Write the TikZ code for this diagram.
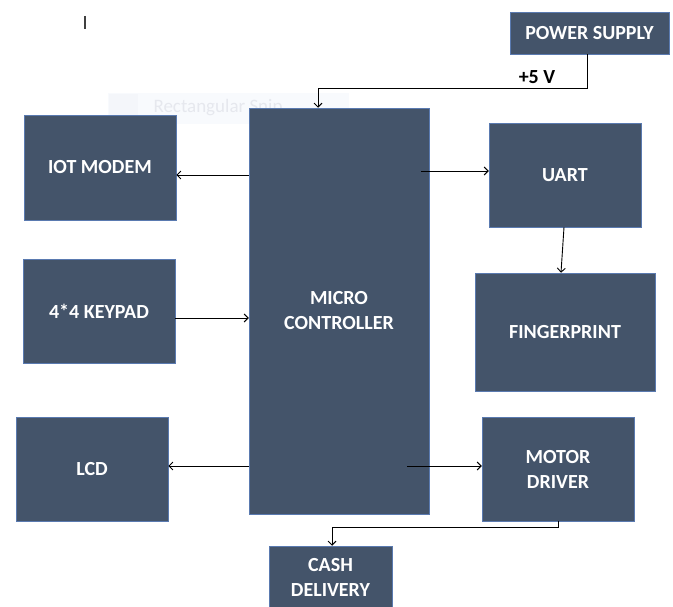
\documentclass[tikz,border=0pt]{standalone}
\usepackage{fontspec}
\setmainfont{Carlito}
\usetikzlibrary{arrows.meta}
\definecolor{blkfill}{HTML}{44546A}
\definecolor{blkline}{HTML}{5A7AB0}
\definecolor{snipbg}{HTML}{F8FAFD}
\definecolor{sniptxt}{HTML}{E6E8EE}
\tikzset{
  blk/.style={rectangle, fill=blkfill, draw=blkline, line width=0.5pt, text=white,
    font=\fontsize{20}{25}\selectfont\bfseries, align=center, inner sep=0pt},
  arr/.style={draw=black, line width=0.9pt, -{Straight Barb[length=4pt,width=8pt,line width=0.9pt]}}
}
\begin{document}
\begin{tikzpicture}[x=1pt,y=-1pt]
\useasboundingbox[fill=white] (0,0) rectangle (673,607);
% faint snip artifact
\fill[snipbg] (108,93) rectangle (349,124);
\fill[snipbg!80!sniptxt] (109,94) rectangle (138,123);
\node[text=sniptxt, font=\fontsize{19}{22}\selectfont, anchor=west] (snip) at (150,108) {Rectangular Snip};
% cursor
\draw[line width=1.2pt, black!75] (85,16) -- (85,29);
% blocks
\node[blk, minimum width=159pt, minimum height=42pt] (ps) at (589.5,33) {POWER SUPPLY};
\node[blk, minimum width=180pt, minimum height=406pt] (mc) at (339,311) {MICRO\\CONTROLLER};
\node[blk, minimum width=152pt, minimum height=105pt] (iot) at (100,167.5) {IOT MODEM};
\node[blk, minimum width=152pt, minimum height=104pt] (kp) at (99,311) {4*4 KEYPAD};
\node[blk, minimum width=152pt, minimum height=104pt] (lcd) at (92,469) {LCD};
\node[blk, minimum width=152pt, minimum height=104pt] (uart) at (565,175) {UART};
\node[blk, minimum width=180pt, minimum height=118pt] (fp) at (565,332) {FINGERPRINT};
\node[blk, minimum width=152pt, minimum height=104pt] (md) at (558,469) {MOTOR\\DRIVER};
\node[blk, minimum width=123pt, minimum height=62pt] (cash) at (330.5,577) {CASH\\DELIVERY};
% label
\node[font=\fontsize{20}{24}\selectfont\bfseries, anchor=center] (v5) at (537,77) {+5 V};
% connectors
\coordinate (p1) at (318,88);
\draw[arr] ([xshift=-2.5pt]ps.south) |- (p1) -- (p1 |- mc.north);
\coordinate (yiot) at (0,175);
\draw[arr] (mc.west |- yiot) -- (iot.east |- yiot);
\coordinate (ykp) at (0,318);
\draw[arr] (kp.east |- ykp) -- (mc.west |- ykp);
\coordinate (ylcd) at (0,466);
\draw[arr] (mc.west |- ylcd) -- (lcd.east |- ylcd);
\coordinate (yuart) at (0,171);
\draw[arr] ([xshift=-8pt]mc.east |- yuart) -- (uart.west |- yuart);
\draw[arr] ([xshift=-1pt]uart.south) -- ([xshift=-4pt]fp.north);
\coordinate (ymd) at (0,466);
\draw[arr] ([xshift=-22pt]mc.east |- ymd) -- (md.west |- ymd);
\coordinate (c1) at (332,527);
\draw[arr] (md.south) |- (c1) -- (c1 |- cash.north);
\end{tikzpicture}
\end{document}
